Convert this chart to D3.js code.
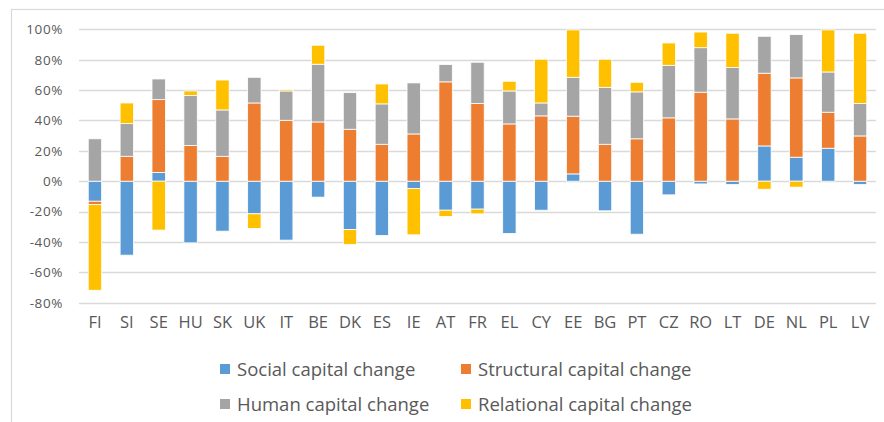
<!DOCTYPE html>
<html>
<head>
<meta charset="utf-8">
<script src="https://cdn.jsdelivr.net/npm/d3@7"></script>
<style>
  body { margin: 0; background: #ffffff; }
  text { font-family: "Open Sans", sans-serif; fill: #595959; }
</style>
</head>
<body>
<div id="chart"></div>
<script>
let width = 884;
let height = 422;

// Data (percent change)
let countries = ["FI", "SI", "SE", "HU", "SK", "UK", "IT", "BE", "DK", "ES", "IE", "AT", "FR",
    "EL", "CY", "EE", "BG", "PT", "CZ", "RO", "LT", "DE", "NL", "PL", "LV"];
let social = [-13.2, -48.7, 5.7, -40.6, -32.9, -21.5, -38.8, -10.5, -31.8, -35.7, -4.8, -19.1, -18.4,
    -34.4, -19.1, 4.8, -19.5, -34.9, -9.0, -1.8, -2.2, 23.2, 15.8, 21.7, -2.2];
let structural = [-2.2, 16.4, 48.0, 23.5, 16.4, 51.5, 40.1, 39.0, 34.2, 24.3, 31.1, 65.4, 51.1,
    37.7, 43.0, 38.0, 24.3, 27.9, 41.7, 58.6, 41.0, 47.9, 52.2, 23.7, 29.8];
let human = [27.9, 21.5, 13.6, 32.9, 30.5, 16.9, 19.3, 38.0, 24.1, 26.6, 33.6, 11.4, 27.2,
    21.7, 8.5, 25.6, 37.5, 30.9, 34.6, 29.3, 33.8, 24.3, 28.5, 26.5, 21.3];
let relational = [-56.4, 13.6, -32.2, 3.0, 19.7, -9.6, 0.9, 12.5, -9.9, 13.1, -30.5, -4.1, -3.1,
    6.4, 28.8, 31.2, 18.5, 6.3, 14.7, 10.3, 22.6, -5.3, -3.9, 27.7, 46.3];
let yTicks = [-80, -60, -40, -20, 0, 20, 40, 60, 80, 100];

let seriesKeys = ["social", "structural", "human", "relational"];
let seriesNames = ["Social capital change", "Structural capital change",
    "Human capital change", "Relational capital change"];
let colors = ["#5B9BD5", "#ED7D31", "#A5A5A5", "#FFC000"];

// Build rows for d3.stack
let rows = countries.map((c, i) => ({
    country: c,
    social: social[i],
    structural: structural[i],
    human: human[i],
    relational: relational[i]
}));

let stacked = d3.stack()
    .keys(seriesKeys)
    .offset(d3.stackOffsetDiverging)(rows);

let svg = d3.select("#chart")
    .append("svg")
    .attr("width", width)
    .attr("height", height);

// Chart frame
svg.append("rect")
    .attr("x", 11.5)
    .attr("y", 9.5)
    .attr("width", 900)
    .attr("height", 450)
    .attr("fill", "none")
    .attr("stroke", "#D9D9D9")
    .attr("stroke-width", 1.2);

let x = d3.scaleBand()
    .domain(countries)
    .range([79, 876])
    .paddingInner(0.58)
    .paddingOuter(0.29);

let y = d3.scaleLinear()
    .domain([-80, 100])
    .range([302.7, 29.3]);

// Gridlines
svg.append("g")
    .selectAll("line")
    .data(yTicks)
    .enter()
    .append("line")
    .attr("x1", 79)
    .attr("x2", 876)
    .attr("y1", d => Math.round(y(d)) + 0.5)
    .attr("y2", d => Math.round(y(d)) + 0.5)
    .attr("stroke", "#D9D9D9")
    .attr("stroke-width", 1.3);

// Y axis labels
let yAxis = d3.axisLeft(y)
    .tickValues(yTicks)
    .tickFormat(d => d + "%")
    .tickSize(0)
    .tickPadding(0);

let yAxisG = svg.append("g")
    .attr("transform", "translate(63, 0)")
    .call(yAxis);
yAxisG.select(".domain").remove();
yAxisG.selectAll("text")
    .attr("font-family", "Open Sans")
    .attr("font-size", 13.5)
    .attr("letter-spacing", 0.6)
    .attr("fill", "#595959");

// Bars
svg.append("g")
    .selectAll("g")
    .data(stacked)
    .enter()
    .append("g")
    .attr("fill", (d, i) => colors[i])
    .selectAll("rect")
    .data(d => d)
    .enter()
    .append("rect")
    .attr("x", d => x(d.data.country))
    .attr("width", x.bandwidth())
    .attr("y", d => y(Math.max(d[0], d[1])))
    .attr("height", d => Math.abs(y(d[0]) - y(d[1])))
    .attr("stroke", "#ffffff")
    .attr("stroke-width", 0.8);

// X axis labels
let xAxis = d3.axisBottom(x)
    .tickSize(0)
    .tickPadding(0);

let xAxisG = svg.append("g")
    .attr("transform", "translate(0, 316)")
    .call(xAxis);
xAxisG.select(".domain").remove();
xAxisG.selectAll("text")
    .attr("font-family", "Open Sans")
    .attr("font-size", 16.5)
    .attr("fill", "#595959");

// Legend, two columns
let legend = svg.append("g")
    .selectAll("g")
    .data(seriesNames)
    .enter()
    .append("g")
    .attr("transform", (d, i) => "translate(" + (i % 2 === 0 ? 220 : 461) + "," + (i < 2 ? 364 : 399) + ")");

legend.append("rect")
    .attr("width", 10)
    .attr("height", 10)
    .attr("fill", (d, i) => colors[i]);

legend.append("text")
    .attr("x", 17)
    .attr("y", 5)
    .attr("dy", "0.36em")
    .attr("font-size", 18.5)
    .text(d => d);
</script>
</body>
</html>
